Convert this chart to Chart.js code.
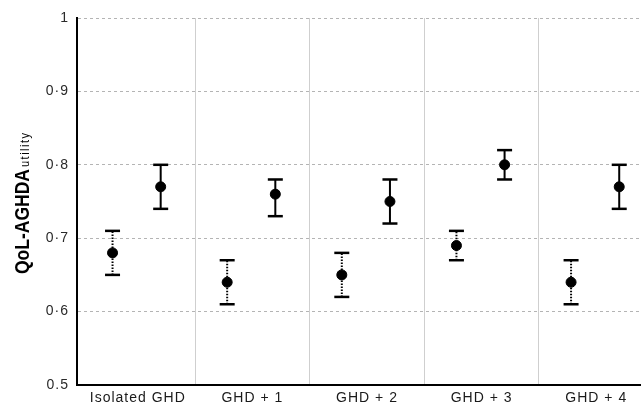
<!DOCTYPE html>
<html>
<head>
<meta charset="utf-8">
<script src="https://cdn.jsdelivr.net/npm/chart.js@4.4.1/dist/chart.umd.min.js"></script>
<style>
  html, body { margin: 0; padding: 0; background: #fff; overflow: hidden; }
  canvas { display: block; }
</style>
</head>
<body>
<canvas id="qolChart" width="641" height="407"></canvas>
<script>
// groups along the x axis
var categories = ['Isolated GHD', 'GHD + 1', 'GHD + 2', 'GHD + 3', 'GHD + 4'];

// first series (dotted error bars)
var dottedMean = [0.68, 0.64, 0.65, 0.69, 0.64];
var dottedLow  = [0.65, 0.61, 0.62, 0.67, 0.61];
var dottedHigh = [0.71, 0.67, 0.68, 0.71, 0.67];

// second series (solid error bars)
var solidMean = [0.77, 0.76, 0.75, 0.80, 0.77];
var solidLow  = [0.74, 0.73, 0.72, 0.78, 0.74];
var solidHigh = [0.80, 0.78, 0.78, 0.82, 0.80];

// y tick labels as printed
var yTicks = [0.5, 0.6, 0.7, 0.8, 0.9, 1];
var yTickLabels = ['0.5', '0\u00b76', '0\u00b77', '0\u00b78', '0\u00b79', '1'];

window.onload = function() {
    var ctx = document.getElementById('qolChart').getContext('2d');
    var leftShift = -0.22, rightShift = 0.2;
    var font = '"Liberation Sans", Arial, sans-serif';

    function meanPoints(vals, shift) {
        return vals.map(function(v, i) { return { x: i + shift, y: v }; });
    }
    // low / high pairs, broken with a null so each bar is its own segment
    function whiskers(lo, hi, shift) {
        var pts = [];
        lo.forEach(function(v, i) {
            pts.push({ x: i + shift, y: v });
            pts.push({ x: i + shift, y: hi[i] });
            pts.push({ x: i + shift, y: null });
        });
        return pts;
    }

    var whiskerStyle = {
        type: 'line',
        showLine: true,
        spanGaps: false,
        borderColor: '#000',
        borderWidth: 2,
        pointStyle: 'line',
        pointRadius: 7.5,
        pointBorderWidth: 2.5,
        pointBorderColor: '#000',
        pointBackgroundColor: '#000'
    };

    var data = {
        datasets: [
            Object.assign({ data: whiskers(dottedLow, dottedHigh, leftShift), borderDash: [1.5, 1.5] }, whiskerStyle),
            Object.assign({ data: whiskers(solidLow, solidHigh, rightShift) }, whiskerStyle),
            { type: 'scatter', data: meanPoints(dottedMean, leftShift), pointRadius: 5,
              backgroundColor: '#000', borderColor: '#000' },
            { type: 'scatter', data: meanPoints(solidMean, rightShift), pointRadius: 5,
              backgroundColor: '#000', borderColor: '#000' }
        ]
    };

    // the printed labels are a little wide, so open up the tick text
    var tickSpacing = {
        id: 'tickSpacing',
        beforeDraw: function(chart) { chart.ctx.letterSpacing = '1px'; }
    };

    // y axis title with the small "utility" subscript
    var yTitle = {
        id: 'yTitle',
        afterDraw: function(chart) {
            var c = chart.ctx;
            c.save();
            c.letterSpacing = '0px';
            c.translate(28.5, 274);
            c.rotate(-Math.PI / 2);
            c.scale(1, 1.15);
            c.fillStyle = '#000';
            c.textBaseline = 'alphabetic';
            c.textAlign = 'left';
            c.font = 'bold 17.5px ' + font;
            c.fillText('QoL-AGHDA', 0, 0);
            var w = c.measureText('QoL-AGHDA').width;
            c.font = '11px ' + font;
            c.letterSpacing = '1.5px';
            c.fillText('utility', w + 2, 0.5);
            c.restore();
        }
    };

    var options = {
        responsive: false,
        animation: false,
        layout: { autoPadding: false, padding: { top: 18, right: 0, left: 0, bottom: 0 } },
        plugins: {
            legend: { display: false },
            tooltip: { enabled: false }
        },
        scales: {
            x: {
                type: 'linear',
                min: -0.53,
                max: 4.39,
                afterBuildTicks: function(scale) {
                    var t = [];
                    for (var v = 0; v <= 4; v += 0.5) t.push({ value: v });
                    scale.ticks = t;
                },
                afterFit: function(scale) {
                    scale.height = 22;
                    scale.paddingLeft = 0;
                    scale.paddingRight = 0;
                },
                ticks: {
                    autoSkip: false,
                    maxRotation: 0,
                    padding: 5,
                    color: '#1a1a1a',
                    font: { family: font, size: 14 },
                    callback: function(v) {
                        return Number.isInteger(v) ? categories[v] : '';
                    }
                },
                grid: {
                    drawTicks: false,
                    color: function(c) {
                        return (c.tick && !Number.isInteger(c.tick.value)) ? '#cfcfcf' : 'rgba(0,0,0,0)';
                    },
                    lineWidth: 1
                },
                border: { display: true, color: '#000', width: 2 }
            },
            y: {
                min: 0.5,
                max: 1,
                afterBuildTicks: function(scale) {
                    scale.ticks = yTicks.map(function(v) { return { value: v }; });
                },
                afterFit: function(scale) { scale.width = 77; },
                ticks: {
                    padding: 8,
                    color: '#2a2a2a',
                    font: { family: font, size: 14 },
                    callback: function(v) {
                        var i = yTicks.findIndex(function(t) { return Math.abs(t - v) < 1e-6; });
                        return i >= 0 ? yTickLabels[i] : '';
                    }
                },
                grid: {
                    drawTicks: false,
                    color: function(c) {
                        return (c.tick && c.tick.value > 0.55) ? '#b4b4b4' : 'rgba(0,0,0,0)';
                    },
                    lineWidth: 1
                },
                border: { display: true, color: '#000', width: 2, dash: [3, 3] }
            }
        }
    };

    new Chart(ctx, {
        type: 'scatter',
        data: data,
        options: options,
        plugins: [tickSpacing, yTitle]
    });
};
</script>
</body>
</html>
